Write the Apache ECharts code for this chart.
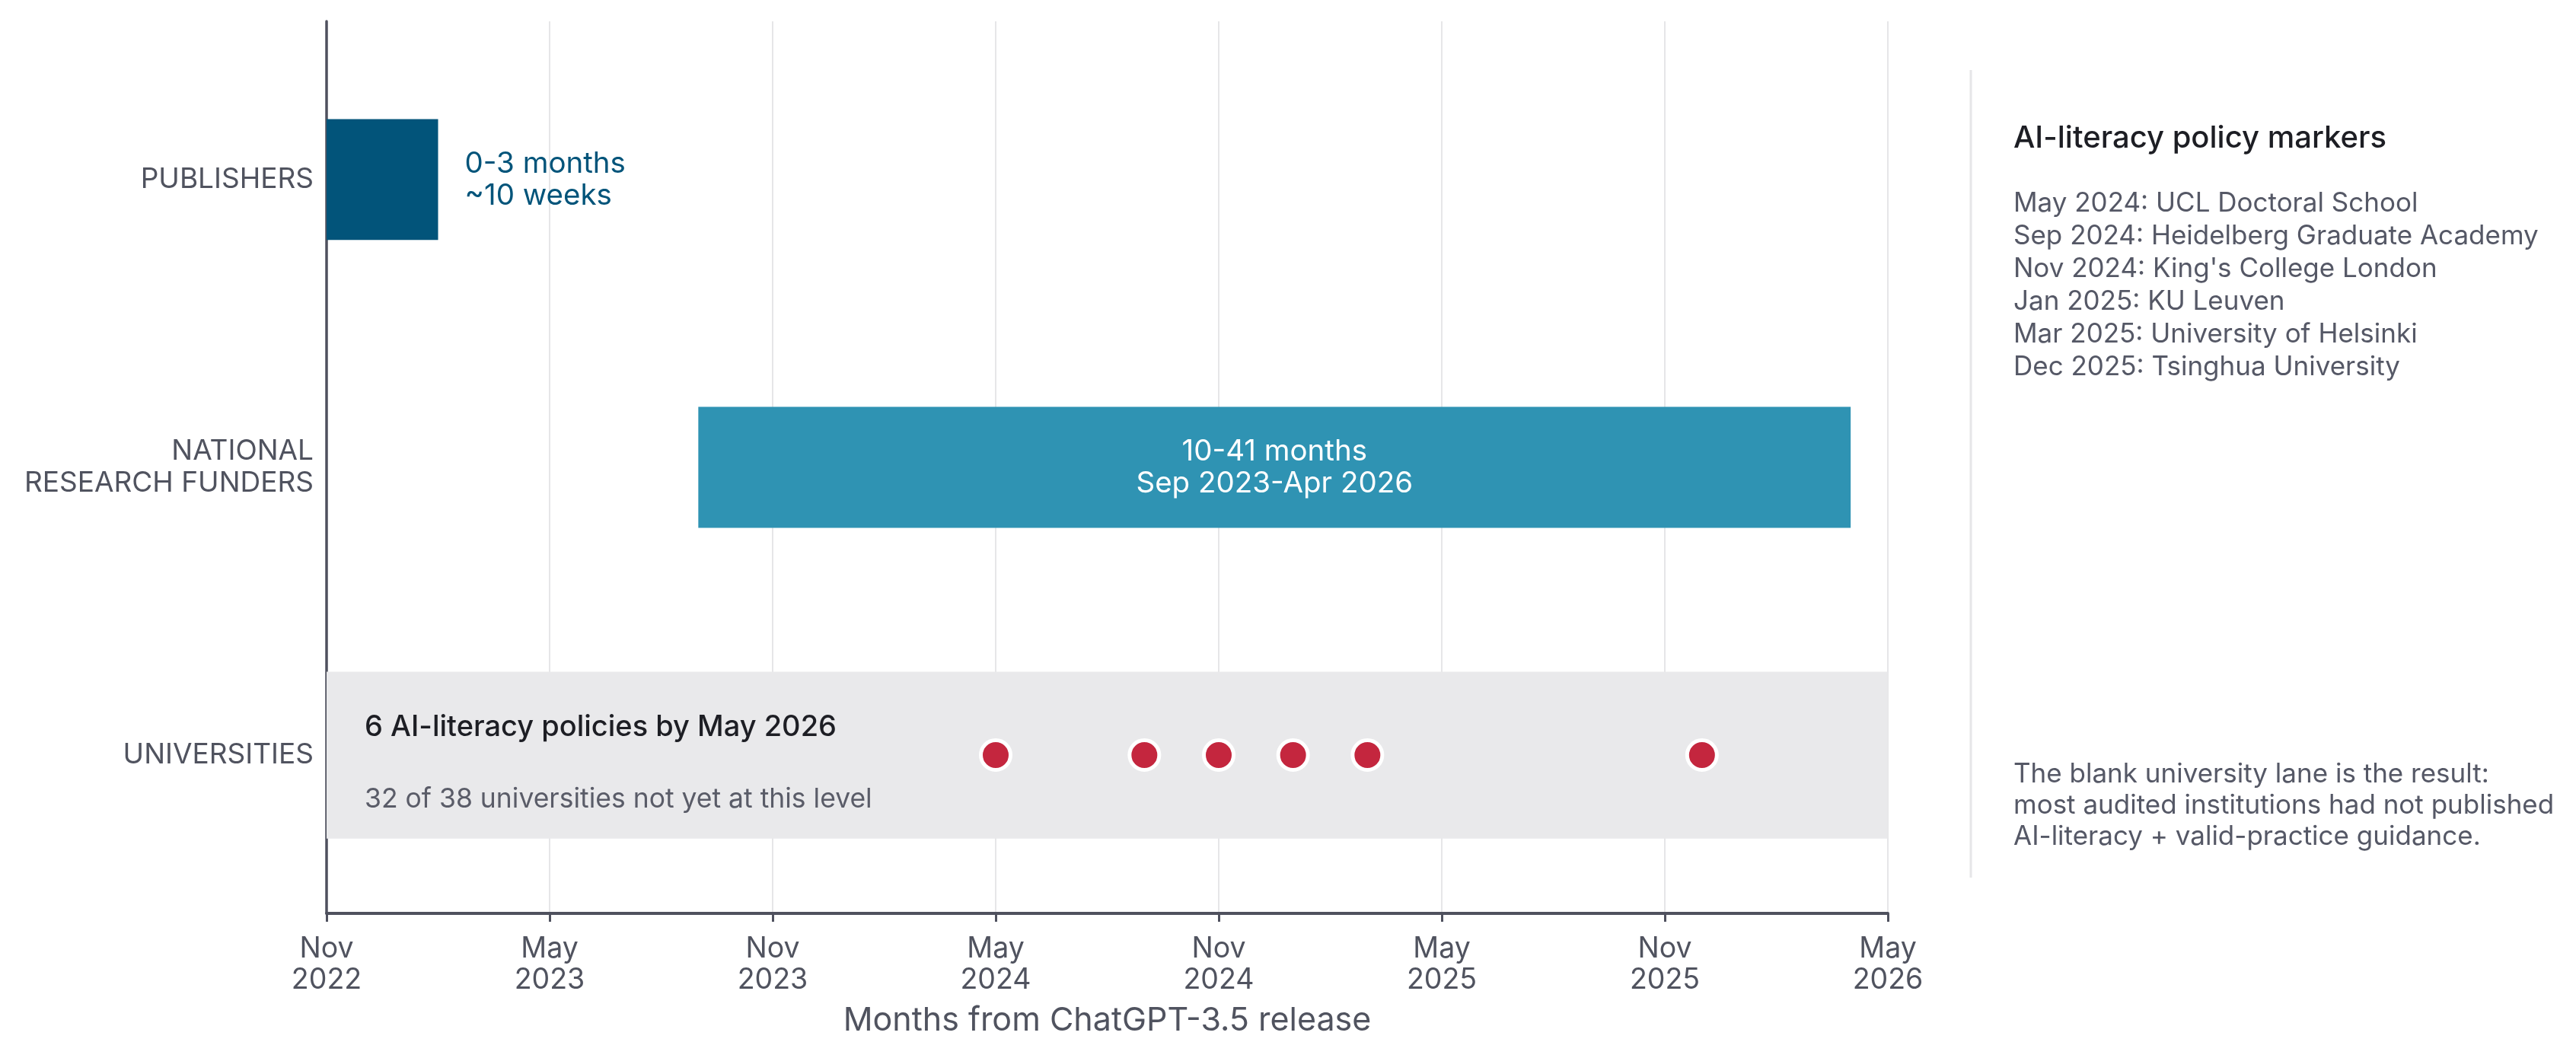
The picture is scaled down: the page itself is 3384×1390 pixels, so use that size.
<!DOCTYPE html>
<html>
<head>
<meta charset="utf-8">
<title>Policy timeline</title>
<script src="https://cdn.jsdelivr.net/npm/echarts@6/dist/echarts.min.js"></script>
<style>
  html, body { margin: 0; padding: 0; background: #ffffff; }
  #chart { width: 3384px; height: 1390px; }
</style>
</head>
<body>
<div id="chart"></div>
<script>
// lanes on the y axis (index = y value)
const lanes = ['PUBLISHERS', 'NATIONAL\nRESEARCH FUNDERS', 'UNIVERSITIES'];

// x ticks every 6 months from Nov 2022 (month 0) to May 2026 (month 42)
const tickLabels = ['Nov\n2022', 'May\n2023', 'Nov\n2023', 'May\n2024', 'Nov\n2024', 'May\n2025', 'Nov\n2025', 'May\n2026'];

// span bars (months from ChatGPT-3.5 release)
const spanLane = [0, 1];
const spanStart = [0, 10];
const spanEnd = [3, 41];
const spanLabels = ['0-3 months\n~10 weeks', '10-41 months\nSep 2023-Apr 2026'];

// university lane
const universityLane = 2;
const bandStart = 0;
const bandEnd = 42;
const bandTitle = '6 AI-literacy policies by May 2026';
const bandNote = '32 of 38 universities not yet at this level';
const policyMonths = [18, 22, 24, 26, 28, 37];

// side panel
const panelTitle = 'AI-literacy policy markers';
const policyMarkers = [
  'May 2024: UCL Doctoral School',
  'Sep 2024: Heidelberg Graduate Academy',
  "Nov 2024: King's College London",
  'Jan 2025: KU Leuven',
  'Mar 2025: University of Helsinki',
  'Dec 2025: Tsinghua University'
];
const panelNote = [
  'The blank university lane is the result:',
  'most audited institutions had not published',
  'AI-literacy + valid-practice guidance.'
];

const FONT = 'Inter';
const AXIS_COLOR = '#4f515e';
const TEXT_GRAY = '#50535f';
const laneColors = ['#02547a', '#2f93b3'];
const DOT_COLOR = '#c4263e';
const BAR_HALF = 0.21;
const BAND_HALF = 0.29;

const chart = echarts.init(document.getElementById('chart'));

const spanData = spanStart.map((s, i) => [s, spanEnd[i], spanLane[i], i]);

const option = {
  animation: false,
  backgroundColor: '#ffffff',
  grid: { left: 429, right: 904, top: 28, bottom: 190, containLabel: false },
  xAxis: {
    type: 'value',
    min: 0,
    max: 42,
    interval: 6,
    name: 'Months from ChatGPT-3.5 release',
    nameLocation: 'middle',
    nameGap: 120,
    nameTextStyle: { fontFamily: FONT, fontSize: 43, color: TEXT_GRAY },
    axisLine: { show: true, onZero: false, lineStyle: { color: AXIS_COLOR, width: 4 } },
    axisTick: { show: true, length: 11, lineStyle: { color: AXIS_COLOR, width: 3 } },
    axisLabel: {
      formatter: v => tickLabels[Math.round(v / 6)] || '',
      fontFamily: FONT,
      fontSize: 37.5,
      lineHeight: 41,
      color: TEXT_GRAY,
      margin: 26
    },
    splitLine: { show: true, lineStyle: { color: '#e6e6e8', width: 2 } }
  },
  yAxis: {
    type: 'value',
    min: -0.55,
    max: 2.55,
    inverse: true,
    axisLine: { show: true, onZero: false, lineStyle: { color: AXIS_COLOR, width: 3.5 } },
    axisTick: { show: false },
    splitLine: { show: false },
    axisLabel: {
      customValues: [0, 1, 2],
      formatter: v => lanes[Math.round(v)] || '',
      fontFamily: FONT,
      fontSize: 37,
      lineHeight: 42,
      padding: [10, 0, 0, 0],
      color: TEXT_GRAY,
      margin: 17
    }
  },
  series: [
    {
      // grey lane behind the university markers
      type: 'custom',
      z: 1,
      data: [[bandStart, bandEnd, universityLane]],
      renderItem: (params, api) => {
        const p0 = api.coord([api.value(0), api.value(2) - BAND_HALF]);
        const p1 = api.coord([api.value(1), api.value(2) + BAND_HALF]);
        const mid = api.coord([api.value(0), api.value(2)]);
        const top = Math.min(p0[1], p1[1]);
        return {
          type: 'group',
          children: [
            {
              type: 'rect',
              shape: { x: p0[0], y: top, width: p1[0] - p0[0], height: Math.abs(p1[1] - p0[1]) },
              style: { fill: '#e9e9eb' }
            },
            {
              type: 'text',
              style: {
                x: mid[0] + 50, y: mid[1] - 36, text: bandTitle,
                fontFamily: FONT, fontSize: 38, fontWeight: 500, fill: '#1d1e24',
                align: 'left', verticalAlign: 'middle'
              }
            },
            {
              type: 'text',
              style: {
                x: mid[0] + 50, y: mid[1] + 58, text: bandNote,
                fontFamily: FONT, fontSize: 35.5, fill: '#5a5c68',
                align: 'left', verticalAlign: 'middle'
              }
            }
          ]
        };
      }
    },
    {
      // publisher and funder spans
      type: 'custom',
      z: 2,
      data: spanData,
      renderItem: (params, api) => {
        const idx = api.value(3);
        const p0 = api.coord([api.value(0), api.value(2) - BAR_HALF]);
        const p1 = api.coord([api.value(1), api.value(2) + BAR_HALF]);
        const top = Math.min(p0[1], p1[1]);
        const h = Math.abs(p1[1] - p0[1]);
        const w = p1[0] - p0[0];
        const inside = w > 400;
        return {
          type: 'group',
          children: [
            {
              type: 'rect',
              shape: { x: p0[0], y: top, width: w, height: h },
              style: { fill: laneColors[idx] }
            },
            {
              type: 'text',
              style: {
                x: inside ? p0[0] + w / 2 : p1[0] + 35,
                y: top + h / 2,
                text: spanLabels[idx],
                fontFamily: FONT,
                fontSize: 38.5,
                lineHeight: 42,
                fill: inside ? '#ffffff' : laneColors[idx],
                align: inside ? 'center' : 'left',
                verticalAlign: 'middle'
              }
            }
          ]
        };
      }
    },
    {
      type: 'scatter',
      z: 3,
      data: policyMonths.map(m => [m, universityLane]),
      symbol: 'circle',
      symbolSize: 39,
      itemStyle: { color: DOT_COLOR, borderColor: '#ffffff', borderWidth: 5, opacity: 1 },
      emphasis: { disabled: true }
    }
  ],
  graphic: [
    {
      type: 'line',
      shape: { x1: 2589, y1: 92, x2: 2589, y2: 1153 },
      style: { stroke: '#e6e6e8', lineWidth: 3 }
    },
    {
      type: 'text',
      left: 2645,
      top: 162,
      style: { text: panelTitle, fontFamily: FONT, fontSize: 40, fontWeight: 500, fill: '#1d1e24' }
    },
    {
      type: 'text',
      left: 2645,
      top: 246,
      style: {
        text: policyMarkers.join('\n'),
        fontFamily: FONT, fontSize: 35, lineHeight: 43, fill: '#555866'
      }
    },
    {
      type: 'text',
      left: 2645,
      top: 997,
      style: {
        text: panelNote.join('\n'),
        fontFamily: FONT, fontSize: 35, lineHeight: 41, fill: '#555866'
      }
    }
  ]
};

chart.setOption(option);
</script>
</body>
</html>
